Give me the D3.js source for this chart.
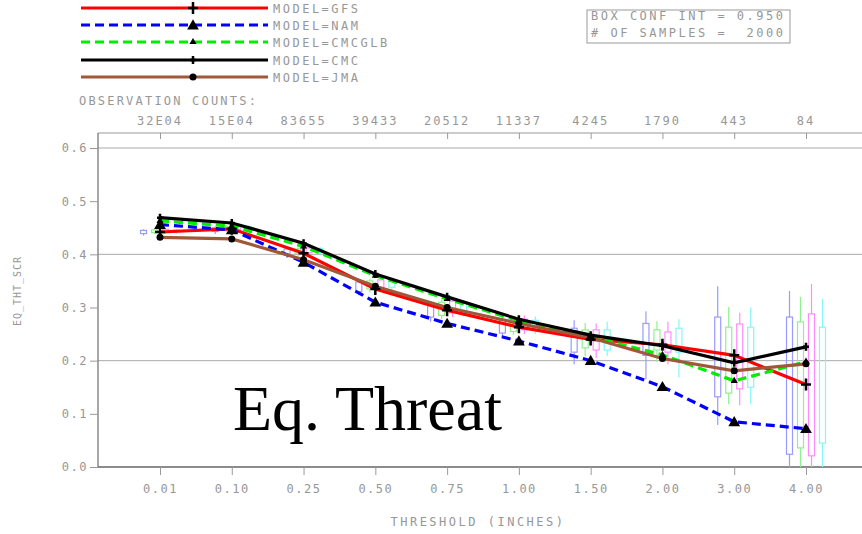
<!DOCTYPE html>
<html>
<head>
<meta charset="utf-8">
<script src="https://cdn.jsdelivr.net/npm/d3@7"></script>
<style>
  body { margin: 0; background: #fff; }
  svg { display: block; }
  .lab { font-family: "DejaVu Sans Mono", monospace; font-size: 12px; fill: #979797; white-space: pre; }
</style>
</head>
<body>
<svg></svg>
<script>
var thresholds = ["0.01", "0.10", "0.25", "0.50", "0.75", "1.00", "1.50", "2.00", "3.00", "4.00"];
var obsCounts  = ["32E04", "15E04", "83655", "39433", "20512", "11337", "4245", "1790", "443", "84"];
var yTicks     = [0.0, 0.1, 0.2, 0.3, 0.4, 0.5, 0.6];
var yGrid      = [0.2, 0.4, 0.6];

var modelNames = ["GFS", "NAM", "CMCGLB", "CMC", "JMA"];
var gfs    = [0.442, 0.448, 0.402, 0.335, 0.295, 0.263, 0.240, 0.230, 0.210, 0.155];
var nam    = [0.456, 0.446, 0.385, 0.310, 0.270, 0.237, 0.200, 0.151, 0.085, 0.072];
var cmcglb = [0.463, 0.453, 0.415, 0.360, 0.316, 0.275, 0.245, 0.211, 0.162, 0.198];
var cmc    = [0.469, 0.459, 0.421, 0.363, 0.320, 0.278, 0.248, 0.228, 0.196, 0.226];
var jma    = [0.432, 0.429, 0.390, 0.340, 0.300, 0.270, 0.243, 0.204, 0.181, 0.194];

// confidence boxes: [whisker low, box low, box high, whisker high]
var boxBlue = [[0.437,0.439,0.445,0.447],[0.440,0.443,0.450,0.453],[0.395,0.400,0.410,0.414],[0.325,0.330,0.348,0.353],
               [0.275,0.282,0.305,0.312],[0.245,0.252,0.276,0.285],[0.195,0.216,0.261,0.276],[0.167,0.210,0.270,0.293],
               [0.081,0.132,0.282,0.340],[0.000,0.024,0.282,0.331]];
var boxGreen = [[0.440,0.441,0.446,0.448],[0.443,0.445,0.452,0.455],[0.398,0.402,0.410,0.413],[0.330,0.335,0.350,0.354],
                [0.280,0.285,0.310,0.315],[0.250,0.255,0.275,0.282],[0.210,0.224,0.258,0.271],[0.200,0.220,0.258,0.274],
                [0.120,0.139,0.263,0.301],[0.000,0.036,0.273,0.320]];
var boxMagenta = [[0.440,0.442,0.447,0.449],[0.444,0.446,0.453,0.456],[0.398,0.403,0.412,0.416],[0.332,0.336,0.352,0.356],
                  [0.284,0.290,0.312,0.317],[0.252,0.258,0.278,0.285],[0.207,0.220,0.258,0.270],[0.195,0.216,0.254,0.273],
                  [0.118,0.147,0.269,0.290],[0.000,0.021,0.288,0.344]];
var boxCyan = [[0.440,0.442,0.446,0.448],[0.444,0.446,0.452,0.455],[0.399,0.403,0.411,0.414],[0.334,0.338,0.350,0.354],
               [0.285,0.290,0.310,0.314],[0.252,0.258,0.276,0.283],[0.210,0.220,0.258,0.273],[0.170,0.216,0.261,0.278],
               [0.120,0.150,0.263,0.300],[0.000,0.045,0.263,0.316]];

var svg = d3.select("svg").attr("width", 862).attr("height", 534);

var x = d3.scalePoint().domain(thresholds).range([160, 806]);
var y = d3.scaleLinear().domain([0, 0.6]).range([467, 148]);
var plotLeft = 98, plotTop = 133, plotRight = 868;

svg.append("clipPath").attr("id", "plotclip")
  .append("rect").attr("x", plotLeft).attr("y", plotTop).attr("width", plotRight - plotLeft).attr("height", y(0) - plotTop);

// frame and grid
svg.append("line").attr("x1", plotLeft).attr("x2", plotRight).attr("y1", plotTop).attr("y2", plotTop)
  .attr("stroke", "#999").attr("stroke-width", 1.2);
svg.selectAll(".grid").data(yGrid).enter().append("line")
  .attr("x1", plotLeft).attr("x2", plotRight).attr("y1", d => y(d)).attr("y2", d => y(d))
  .attr("stroke", "#aaa").attr("stroke-width", 1);

var yAxis = svg.append("g").attr("transform", "translate(" + plotLeft + ",0)")
  .call(d3.axisLeft(y).tickValues(yTicks).tickSize(8).tickFormat(d3.format(".1f")));
yAxis.select(".domain").attr("d", "M0," + plotTop + "V" + y(0)).attr("stroke", "#777").attr("stroke-width", 1.3);
yAxis.selectAll(".tick line").attr("stroke", "#999");
yAxis.selectAll(".tick text").attr("class", "lab").attr("x", -10).attr("letter-spacing", "1.5px");

var xAxis = svg.append("g").attr("transform", "translate(0," + y(0) + ")")
  .call(d3.axisBottom(x).tickSize(8).tickPadding(9));
xAxis.select(".domain").attr("d", "M" + plotLeft + ",0H" + plotRight).attr("stroke", "#666").attr("stroke-width", 1.5);
xAxis.selectAll(".tick line").attr("stroke", "#999");
xAxis.selectAll(".tick text").attr("class", "lab").attr("letter-spacing", "1.5px");

var topAxis = svg.append("g").attr("transform", "translate(0," + plotTop + ")")
  .call(d3.axisBottom(x).tickSize(6).tickFormat(""));
topAxis.select(".domain").remove();
topAxis.selectAll(".tick line").attr("stroke", "#999");

// observation counts
svg.append("text").attr("class", "lab").attr("x", 79).attr("y", 105).attr("letter-spacing", "2.2px")
  .text("OBSERVATION COUNTS:");
svg.selectAll(".cnt").data(obsCounts).enter().append("text")
  .attr("class", "lab").attr("x", (d, i) => x(thresholds[i])).attr("y", 125)
  .attr("text-anchor", "middle").attr("letter-spacing", "2px").text(d => d);

// confidence boxes
var boxSets = [
  {vals: boxBlue, color: "#9a9aff", off: -16.5},
  {vals: boxGreen, color: "#8ff08f", off: -5.5},
  {vals: boxMagenta, color: "#ff8cff", off: 5.5},
  {vals: boxCyan, color: "#86f6f6", off: 16.5}
];
var boxLayer = svg.append("g").attr("clip-path", "url(#plotclip)");
boxSets.forEach(function(bs) {
  var g = boxLayer.append("g").attr("stroke", bs.color).attr("fill", "none").attr("stroke-width", 1.2);
  bs.vals.forEach(function(b, i) {
    var cx = x(thresholds[i]) + bs.off;
    g.append("line").attr("x1", cx).attr("x2", cx).attr("y1", y(b[0]) + 1).attr("y2", y(b[1]));
    g.append("line").attr("x1", cx).attr("x2", cx).attr("y1", y(b[2])).attr("y2", y(b[3]));
    g.append("rect").attr("x", cx - 3).attr("width", 6).attr("y", y(b[2])).attr("height", y(b[1]) - y(b[2]));
  });
});

// model lines
var models = [
  {name: "GFS", vals: gfs, color: "#ff0000", dash: null, marker: "plusBig"},
  {name: "NAM", vals: nam, color: "#0000ff", dash: "9,5", marker: "triBig"},
  {name: "CMCGLB", vals: cmcglb, color: "#00ee00", dash: "9,5", marker: "triSmall"},
  {name: "CMC", vals: cmc, color: "#000000", dash: null, marker: "plusSmall"},
  {name: "JMA", vals: jma, color: "#a0583a", dash: null, marker: "dot"}
];
var drawOrder = [0, 1, 2, 4, 3];

function marker(g, type, cx, cy) {
  if (type === "plusBig") {
    g.append("path").attr("d", "M" + (cx - 5) + "," + cy + "H" + (cx + 5) + "M" + cx + "," + (cy - 6) + "V" + (cy + 6))
      .attr("stroke", "#000").attr("stroke-width", 2.5);
  } else if (type === "plusSmall") {
    g.append("path").attr("d", "M" + (cx - 3) + "," + cy + "H" + (cx + 3) + "M" + cx + "," + (cy - 4) + "V" + (cy + 4))
      .attr("stroke", "#000").attr("stroke-width", 2.5);
  } else if (type === "triBig") {
    g.append("path").attr("d", d3.symbol(d3.symbolTriangle, 60)()).attr("transform", "translate(" + cx + "," + (cy + 1) + ")")
      .attr("fill", "#000");
  } else if (type === "triSmall") {
    g.append("path").attr("d", d3.symbol(d3.symbolTriangle, 22)()).attr("transform", "translate(" + cx + "," + cy + ")")
      .attr("fill", "#000");
  } else {
    g.append("circle").attr("cx", cx).attr("cy", cy).attr("r", 3.5).attr("fill", "#000");
  }
}

var line = d3.line().x((d, i) => x(thresholds[i])).y(d => y(d));
drawOrder.forEach(function(k) {
  var m = models[k];
  svg.append("path").datum(m.vals).attr("d", line).attr("fill", "none")
    .attr("stroke", m.color).attr("stroke-width", 3.2).attr("stroke-dasharray", m.dash);
});
drawOrder.forEach(function(k) {
  var m = models[k];
  var g = svg.append("g");
  m.vals.forEach(function(v, i) { marker(g, m.marker, x(thresholds[i]), y(v)); });
});

// legend
var legendY = [8, 25, 42, 60, 77];
models.forEach(function(m, i) {
  var g = svg.append("g");
  g.append("line").attr("x1", 81).attr("x2", 268).attr("y1", legendY[i]).attr("y2", legendY[i])
    .attr("stroke", m.color).attr("stroke-width", 3.2).attr("stroke-dasharray", m.dash);
  marker(g, m.marker, 193, legendY[i]);
  g.append("text").attr("class", "lab").attr("x", 273).attr("y", legendY[i] + 4.5)
    .attr("letter-spacing", "2.5px").text("MODEL=" + m.name);
});

// box info
svg.append("rect").attr("x", 587).attr("y", 10).attr("width", 203).attr("height", 33)
  .attr("fill", "none").attr("stroke", "#999");
svg.append("text").attr("class", "lab").attr("x", 591).attr("y", 20).attr("letter-spacing", "2.5px")
  .text("BOX CONF INT = 0.950");
svg.append("text").attr("class", "lab").attr("x", 591).attr("y", 37).attr("letter-spacing", "2.5px")
  .text("# OF SAMPLES =  2000");

// axis titles
svg.append("text").attr("class", "lab").attr("x", 478).attr("y", 526).attr("text-anchor", "middle")
  .attr("letter-spacing", "2.5px").text("THRESHOLD (INCHES)");
svg.append("text").attr("class", "lab").attr("transform", "translate(21,291) rotate(-90)")
  .attr("text-anchor", "middle").style("font-size", "10px").attr("letter-spacing", "1px").text("EQ_THT_SCR");

// overlay title
svg.append("text").attr("x", 233).attr("y", 430)
  .style("font-family", "'Liberation Serif', 'Times New Roman', serif").style("font-size", "64px").style("fill", "#000")
  .text("Eq. Threat");
</script>
</body>
</html>
